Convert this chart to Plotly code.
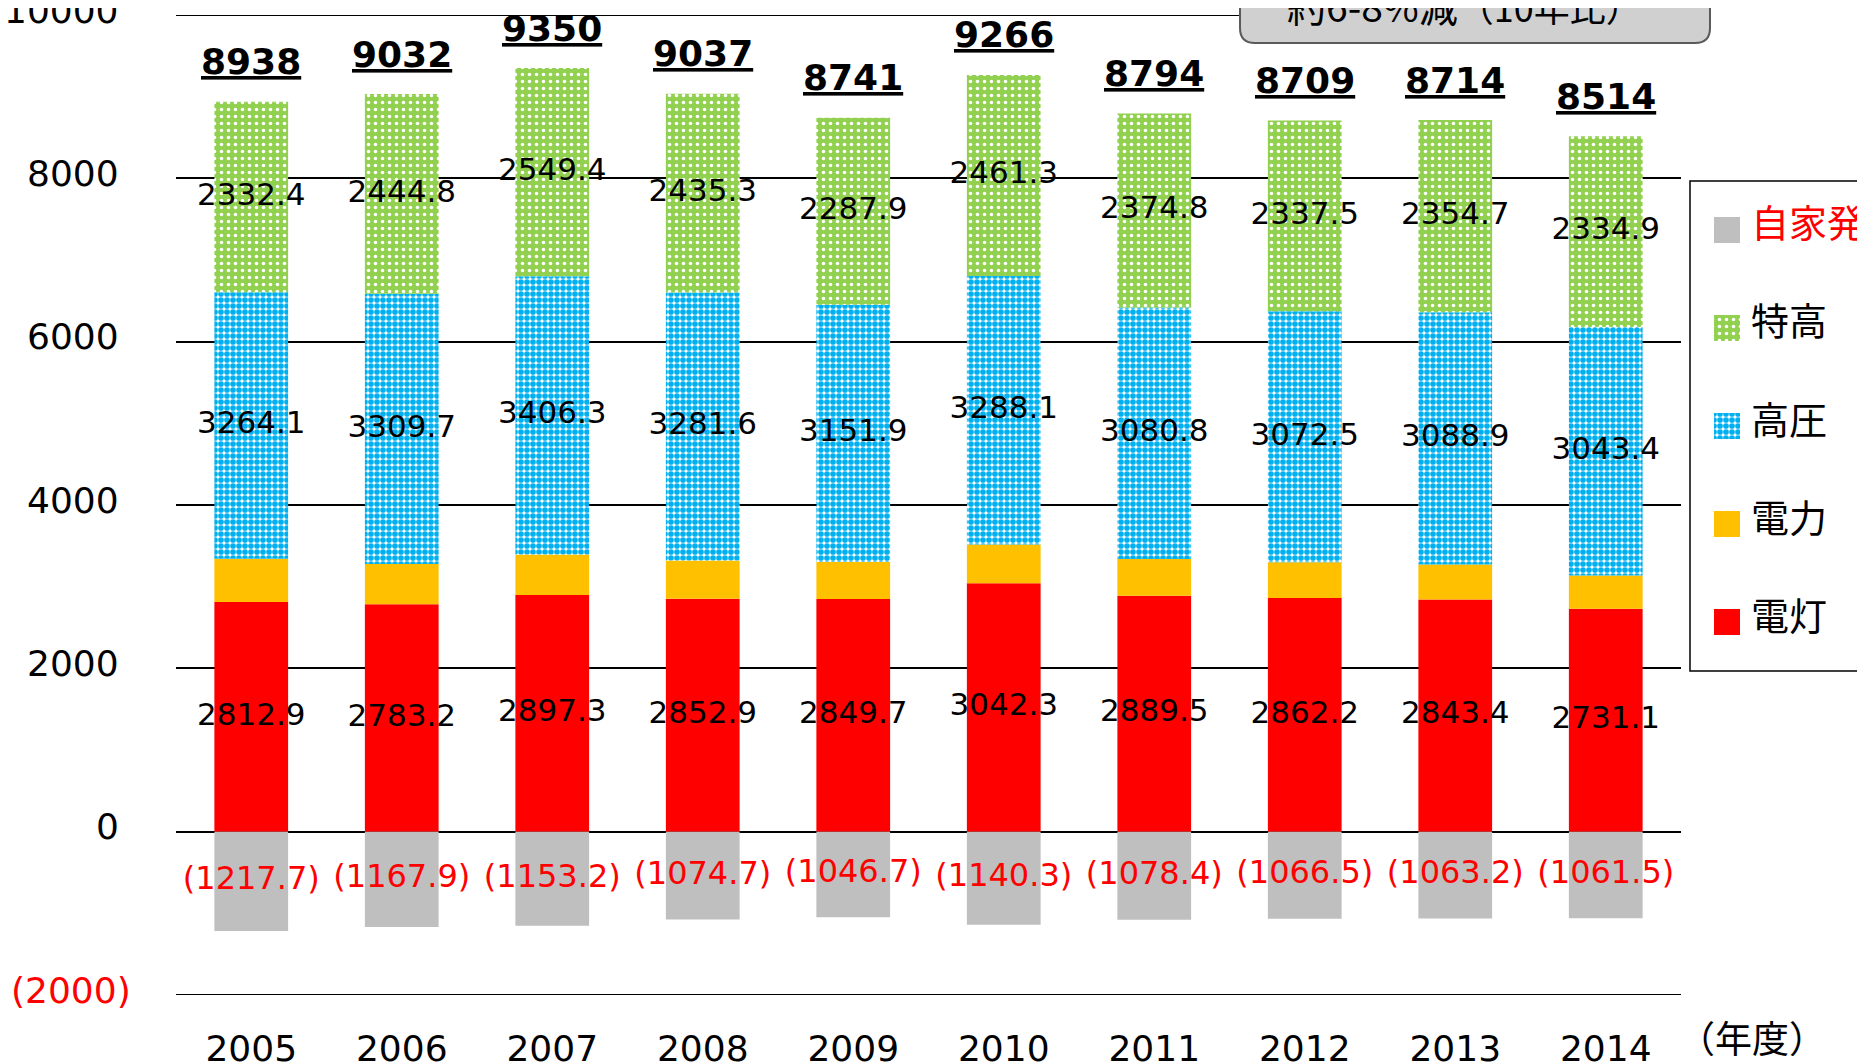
import plotly.graph_objects as go
import numpy as np

# ---------------- data ----------------
years = ["2005", "2006", "2007", "2008", "2009", "2010", "2011", "2012", "2013", "2014"]
dento = [2812.9, 2783.2, 2897.3, 2852.9, 2849.7, 3042.3, 2889.5, 2862.2, 2843.4, 2731.1]      # 電灯
denryoku = [528.6, 494.3, 497.0, 467.2, 451.5, 474.3, 448.9, 436.8, 427.0, 404.6]             # 電力
koatsu = [3264.1, 3309.7, 3406.3, 3281.6, 3151.9, 3288.1, 3080.8, 3072.5, 3088.9, 3043.4]     # 高圧
tokko = [2332.4, 2444.8, 2549.4, 2435.3, 2287.9, 2461.3, 2374.8, 2337.5, 2354.7, 2334.9]      # 特高
jikahatsu = [-1217.7, -1167.9, -1153.2, -1074.7, -1046.7, -1140.3, -1078.4, -1066.5, -1063.2, -1061.5]  # 自家発
totals = [8938, 9032, 9350, 9037, 8741, 9266, 8794, 8709, 8714, 8514]
y_tickvals = [-2000, 0, 2000, 4000, 6000, 8000, 10000]
y_ticktext = ["(2000)", "0", "2000", "4000", "6000", "8000", "10000"]
y_min, y_max = -2000, 10000
callout_main = "約6-8%減"
callout_sub = "（10年比）"
x_unit = "（年度）"

# ---------------- layout helpers ----------------
# page pixel coordinates (as seen in the screenshot) -> figure paper coords.
# The page body has an 8px default margin, so the figure starts at (8, 8).
OFF = 8
W, H = 1865, 1064
PAGE_L, PAGE_T, PAGE_B, PAGE_R = 176, 15, 995, 1681   # plot area in page pixels
ML = PAGE_L - OFF
MT = PAGE_T - OFF
MB = H - (PAGE_B - OFF)
MR = 0
PW, PH = W - ML - MR, H - MT - MB
XDOM = (PAGE_R - PAGE_L) / PW


def px(x):
    return (x - PAGE_L) / PW


def py(y):
    return (PAGE_B - y) / PH


FONT = "DejaVu Sans, Noto Sans CJK JP, sans-serif"
CJK = "Noto Sans CJK JP, sans-serif"

RED = "#FF0000"
ORANGE = "#FFC000"
BLUE = "#00B0F0"
GREEN = "#92D050"
GRAY = "#BFBFBF"

styles = {
    "電灯": dict(color=RED),
    "電力": dict(color=ORANGE),
    "高圧": dict(color="white", pattern=dict(shape=".", bgcolor="white", fgcolor=BLUE,
                                            size=6, solidity=0.7, fillmode="replace")),
    "特高": dict(color=GREEN, pattern=dict(shape=".", bgcolor=GREEN, fgcolor="white",
                                          size=7, solidity=0.2, fillmode="replace")),
    "自家発": dict(color=GRAY),
}

fig = go.Figure()

series = [("電灯", dento), ("電力", denryoku), ("高圧", koatsu), ("特高", tokko), ("自家発", jikahatsu)]
for name, vals in series:
    fig.add_trace(go.Bar(x=years, y=vals, name=name, width=0.49,
                         marker=dict(line=dict(width=0), **styles[name]),
                         showlegend=False, hoverinfo="skip"))

# segment labels at segment centres
d = np.array(dento)
p = np.array(denryoku)
k = np.array(koatsu)
t = np.array(tokko)
j = np.array(jikahatsu)
label_sets = [
    (d / 2, d),
    (d + p + k / 2, k),
    (d + p + k + t / 2, t),
]
for ys, vals in label_sets:
    fig.add_trace(go.Scatter(x=years, y=ys, mode="text", text=[f"{v:.1f}" for v in vals],
                             textfont=dict(size=31, color="black", family=FONT),
                             cliponaxis=False, showlegend=False, hoverinfo="skip"))
fig.add_trace(go.Scatter(x=years, y=j / 2, mode="text", text=[f"({-v:.1f})" for v in j],
                         textfont=dict(size=32, color=RED, family=FONT),
                         cliponaxis=False, showlegend=False, hoverinfo="skip"))

annotations = []
for i, tot in enumerate(totals):
    annotations.append(dict(x=i, y=tot, xref="x", yref="y", text=f"{tot}", showarrow=False,
                            yanchor="middle", yshift=40,
                            font=dict(size=36, color="black", family=FONT, weight="bold",
                                      lineposition="under")))

# y tick labels (slightly above their gridlines, as in the original)
for val, txt in zip(y_tickvals, y_ticktext):
    neg = val < 0
    annotations.append(dict(xref="paper", yref="y", x=px(71) if neg else px(121), y=val,
                            xanchor="center" if neg else "right", yanchor="middle", yshift=5,
                            showarrow=False, text=txt,
                            font=dict(size=36, color=RED if neg else "black", family=FONT)))

# callout box (rounded, top cut off by figure edge)
x0, x1, yb, ytop, r = 1240, 1710, 43, -40, 15
path = (f"M {px(x0)},{py(ytop)} L {px(x0)},{py(yb - r)} Q {px(x0)},{py(yb)} {px(x0 + r)},{py(yb)} "
        f"L {px(x1 - r)},{py(yb)} Q {px(x1)},{py(yb)} {px(x1)},{py(yb - r)} L {px(x1)},{py(ytop)} Z")
shapes = [
    # boundary gridlines at the range edges
    dict(type="line", xref="paper", yref="y", x0=0, x1=XDOM, y0=y_max, y1=y_max,
         line=dict(color="black", width=2), layer="below"),
    dict(type="line", xref="paper", yref="y", x0=0, x1=XDOM, y0=y_min, y1=y_min,
         line=dict(color="black", width=2), layer="below"),
    dict(type="path", path=path, xref="paper", yref="paper", fillcolor="#D0D0D0",
         line=dict(color="#5A5A5A", width=2), layer="above"),
    # legend frame
    dict(type="rect", xref="paper", yref="paper", x0=px(1690), x1=px(1910), y0=py(671), y1=py(181),
         line=dict(color="black", width=1.5), fillcolor="rgba(0,0,0,0)", layer="above"),
]
annotations.append(dict(xref="paper", yref="paper", x=px(1464), y=py(5), xanchor="center", yanchor="middle",
                        showarrow=False,
                        text=f"{callout_main}<span style='font-size:36px'>{callout_sub}</span>",
                        font=dict(size=39, color="black", family=CJK)))
annotations.append(dict(xref="paper", yref="paper", x=px(1752), y=py(1037), xanchor="center", yanchor="middle",
                        showarrow=False, text=x_unit, font=dict(size=37, color="black", family=CJK)))

# manual legend (large squares with patterns) on a hidden pixel-unit axis pair
legend_order = ["自家発", "特高", "高圧", "電力", "電灯"]
legend_top = [217, 315, 413, 511, 609]
for name, top in zip(legend_order, legend_top):
    fig.add_trace(go.Bar(x=[1727], y=[26], base=[top], width=[26], xaxis="x2", yaxis="y2",
                         marker=dict(line=dict(width=0), **styles[name]),
                         showlegend=False, hoverinfo="skip"))
    annotations.append(dict(xref="paper", yref="paper", x=px(1749), y=py(top + 4), xanchor="left",
                            yanchor="middle", showarrow=False, text=name,
                            font=dict(size=38, color=RED if name == "自家発" else "black", family=CJK)))

fig.update_layout(
    width=W, height=H,
    margin=dict(l=ML, r=MR, t=MT, b=MB, autoexpand=False),
    paper_bgcolor="white", plot_bgcolor="white",
    barmode="relative", bargap=0.51,
    showlegend=False,
    font=dict(family=FONT, color="black"),
    xaxis=dict(domain=[0, XDOM], type="category", range=[-0.5, 9.5], automargin=False,
               showgrid=False, showline=False, zeroline=False, ticks="",
               tickfont=dict(size=36, color="black", family=FONT), ticklabelstandoff=29),
    yaxis=dict(range=[y_min, y_max], tickvals=y_tickvals, showticklabels=False, automargin=False,
               showgrid=True, gridcolor="black", gridwidth=2,
               zeroline=True, zerolinecolor="black", zerolinewidth=2,
               showline=False, ticks=""),
    xaxis2=dict(domain=[XDOM, 1], range=[PAGE_R, W + OFF], anchor="y2", visible=False),
    yaxis2=dict(domain=[0, 1], range=[PAGE_B, PAGE_T], anchor="x2", visible=False),
    shapes=shapes,
    annotations=annotations,
)

fig.write_html("out.html")
